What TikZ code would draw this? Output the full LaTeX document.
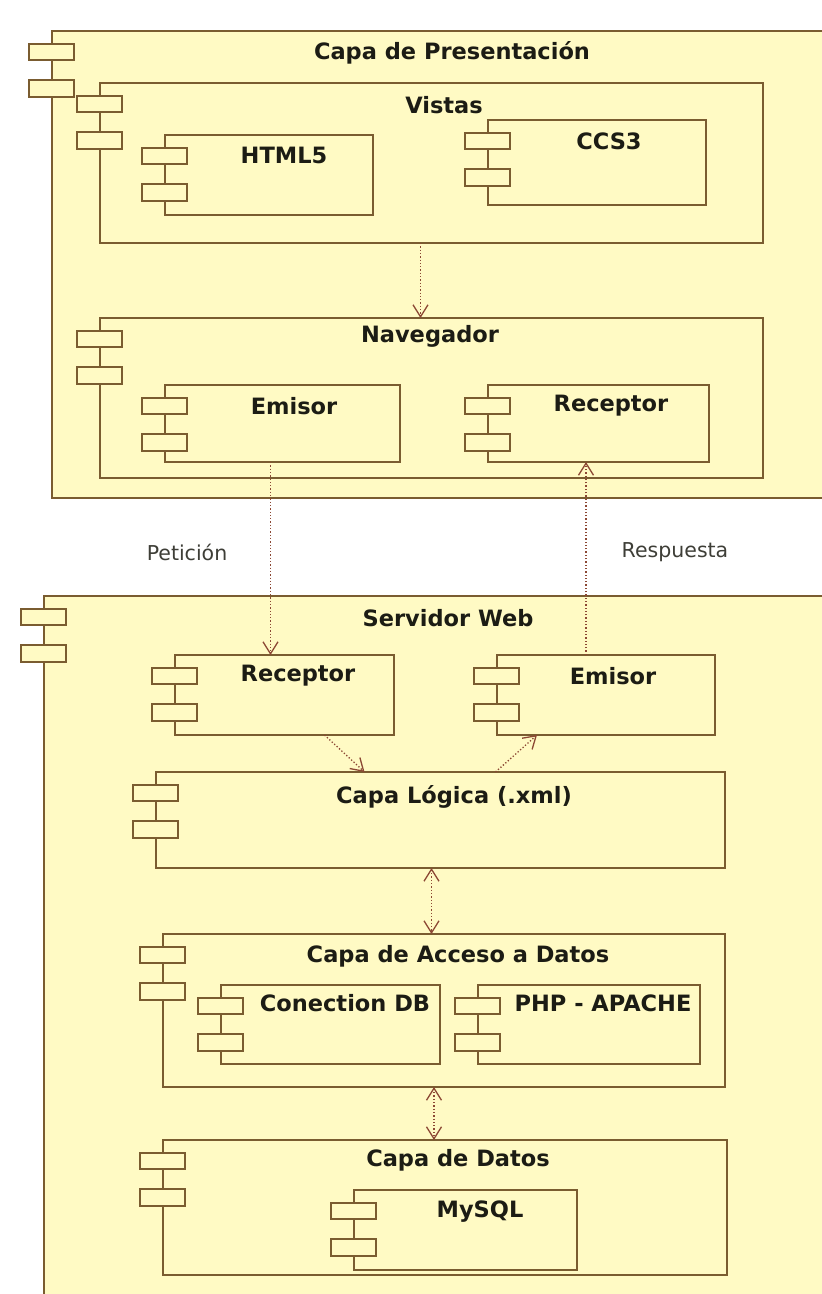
\documentclass[tikz,border=0pt]{standalone}
\usepackage{fontspec}
\setmainfont{DejaVu Sans}
\usetikzlibrary{arrows.meta}

\definecolor{linec}{RGB}{122,92,48}
\definecolor{boxfill}{RGB}{255,250,196}
\definecolor{depc}{RGB}{140,72,52}
\definecolor{textc}{RGB}{28,28,20}

% the two small tabs on the left side of a component
\newcommand{\compicons}[1]{%
  \draw[tab] ([shift={(-23,13)}]#1.north west) rectangle ++(45,16);
  \draw[tab] ([shift={(-23,49)}]#1.north west) rectangle ++(45,17);
}

\begin{document}
\begin{tikzpicture}[
    x=1pt, y=-1pt,
    comp/.style={rectangle, draw=linec, fill=boxfill, line width=2.2pt,
                 anchor=north west, inner sep=0pt, outer sep=0pt},
    tab/.style={draw=linec, fill=boxfill, line width=2pt},
    title/.style={font=\bfseries\fontsize{22.5}{26}\selectfont, text=textc, inner sep=0pt},
    note/.style={font=\fontsize{20.5}{24}\selectfont, text=textc!85, inner sep=0pt},
    dep/.style={depc, line width=1.3pt, dotted, >={Straight Barb[length=12pt,width=15pt]}}
]
\useasboundingbox (0,0) rectangle (822,1294);
\clip (0,0) rectangle (822,1294);
\fill[white] (0,0) rectangle (822,1294);

% presentation layer
\node (pres) [comp, minimum width=800pt, minimum height=467pt] at (52,31) {};
\compicons{pres}
\node (presT) [title] at (452,53) {Capa de Presentación};

\node (vistas) [comp, minimum width=663pt, minimum height=160pt] at (100,83) {};
\compicons{vistas}
\node (vistasT) [title] at (444,105) {Vistas};

\node (html) [comp, minimum width=208pt, minimum height=80pt] at (165,135) {};
\compicons{html}
\node (htmlT) [title] at (284,155) {HTML5};

\node (ccs) [comp, minimum width=218pt, minimum height=85pt] at (488,120) {};
\compicons{ccs}
\node (ccsT) [title] at (609,141) {CCS3};

\node (nav) [comp, minimum width=663pt, minimum height=160pt] at (100,318) {};
\compicons{nav}
\node (navT) [title] at (430,336) {Navegador};

\node (emisA) [comp, minimum width=235pt, minimum height=77pt] at (165,385) {};
\compicons{emisA}
\node (emisAT) [title] at (294,406) {Emisor};

\node (recA) [comp, minimum width=221pt, minimum height=77pt] at (488,385) {};
\compicons{recA}
\node (recAT) [title] at (611,406) {Receptor};

% web server
\node (serv) [comp, minimum width=806pt, minimum height=730pt] at (44,596) {};
\compicons{serv}
\node (servT) [title] at (448,618) {Servidor Web};

\node (recB) [comp, minimum width=219pt, minimum height=80pt] at (175,655) {};
\compicons{recB}
\node (recBT) [title] at (298,676) {Receptor};

\node (emisB) [comp, minimum width=218pt, minimum height=80pt] at (497,655) {};
\compicons{emisB}
\node (emisBT) [title] at (613,676) {Emisor};

\node (logica) [comp, minimum width=569pt, minimum height=96pt] at (156,772) {};
\compicons{logica}
\node (logicaT) [title] at (454,797) {Capa Lógica (.xml)};

\node (acceso) [comp, minimum width=562pt, minimum height=153pt] at (163,934) {};
\compicons{acceso}
\node (accesoT) [title] at (458,956) {Capa de Acceso a Datos};

\node (conn) [comp, minimum width=219pt, minimum height=79pt] at (221,985) {};
\compicons{conn}
\node (connT) [title] at (345,1003) {Conection DB};

\node (php) [comp, minimum width=222pt, minimum height=79pt] at (478,985) {};
\compicons{php}
\node (phpT) [title] at (603,1003) {PHP - APACHE};

\node (datos) [comp, minimum width=564pt, minimum height=135pt] at (163,1140) {};
\compicons{datos}
\node (datosT) [title] at (458,1160) {Capa de Datos};

\node (mysql) [comp, minimum width=223pt, minimum height=80pt] at (354,1190) {};
\compicons{mysql}
\node (mysqlT) [title] at (480,1212) {MySQL};

% labels between the layers
\node (peticion)  [note] at (187,552) {Petición};
\node (respuesta) [note] at (675,552) {Respuesta};

% dependencies
\draw[dep, ->] ([xshift=-11]vistas.south) -- ([xshift=-11]vistas.south |- nav.north);
\draw[dep, ->] ([xshift=-12]emisA.south) -- ([xshift=-12]emisA.south |- recB.north);
\draw[dep, ->] ([xshift=-20]emisB.north) -- ([xshift=-20]emisB.north |- recA.south);
\draw[dep, ->] ([xshift=40]recB.south) -- ([xshift=-76]logica.north);
\draw[dep, ->] ([xshift=55]logica.north) -- ([xshift=-69]emisB.south);
\draw[dep, <->] ([xshift=-9]logica.south) -- ([xshift=-9]logica.south |- acceso.north);
\draw[dep, <->] ([xshift=-10]acceso.south) -- ([xshift=-10]acceso.south |- datos.north);
\end{tikzpicture}
\end{document}
